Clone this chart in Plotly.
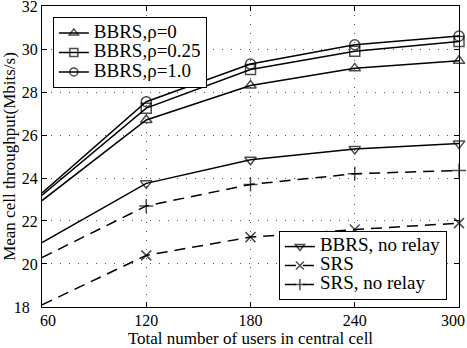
import plotly.graph_objects as go

users = [60, 120, 180, 240, 300]
bbrs_rho0 = [22.95, 26.7, 28.3, 29.1, 29.45]
bbrs_rho025 = [23.2, 27.25, 29.05, 29.9, 30.35]
bbrs_rho1 = [23.3, 27.55, 29.3, 30.2, 30.6]
bbrs_norelay = [21.0, 23.75, 24.85, 25.35, 25.6]
srs = [18.1, 20.4, 21.25, 21.6, 21.9]
srs_norelay = [20.3, 22.7, 23.7, 24.2, 24.35]

x_ticks = [60, 120, 180, 240, 300]
x_ticktext = ["\u00a0\u00a0\u00a060", "120", "180", "240", "300\u00a0\u00a0\u00a0"]
y_ticks = [18, 20, 22, 24, 26, 28, 30, 32]
y_ticktext = ["18\u00a0\u00a0", "20", "22", "24", "26", "28", "30", "32"]

FONT = "Liberation Serif, Times New Roman, serif"
MS = [0, 10, 10, 10, 10]

series = [
    ("BBRS,ρ=0", bbrs_rho0, "triangle-up-open", "solid", "legend"),
    ("BBRS,ρ=0.25", bbrs_rho025, "square-open", "solid", "legend"),
    ("BBRS,ρ=1.0", bbrs_rho1, "circle-open", "solid", "legend"),
    ("BBRS, no relay", bbrs_norelay, "triangle-down-open", "solid", "legend2"),
    ("SRS", srs, "x-thin-open", "dash", "legend2"),
    ("SRS, no relay", srs_norelay, "cross-thin-open", "dash", "legend2"),
]

fig = go.Figure()
for name, ys, sym, dash, leg in series:
    fig.add_trace(go.Scatter(
        x=users, y=ys, mode="lines+markers",
        name='<span style="font-size:19px">' + name + "</span>",
        line=dict(color="black", width=1.5, dash="solid" if dash == "solid" else "11px,7px"),
        marker=dict(symbol=sym, size=MS, color="black", line=dict(color="black", width=1.5)),
        legend=leg, cliponaxis=False,
    ))

axis_common = dict(
    showline=True, linecolor="black", linewidth=1, mirror="ticks",
    ticks="inside", ticklen=5, tickcolor="black",
    showgrid=True, gridcolor="#555", griddash="1px,8px", gridwidth=1,
    zeroline=False, tickfont=dict(family=FONT, size=16, color="black"),
    ticklabeloverflow="allow", automargin=False,
)

fig.update_layout(
    width=467, height=348,
    margin=dict(l=42, r=8, t=6, b=41, autoexpand=False),
    paper_bgcolor="white", plot_bgcolor="white",
    font=dict(family=FONT, color="black", size=16),
    xaxis=dict(range=[59.999, 300.001], tickvals=x_ticks, ticktext=x_ticktext,
               ticklabelstandoff=-1,
               title=dict(text="Total number of users in central cell",
                          font=dict(family=FONT, size=17), standoff=0),
               **axis_common),
    yaxis=dict(range=[17.999, 32.001], tickvals=y_ticks, ticktext=y_ticktext,
               title=dict(text="Mean cell throughput(Mbits/s)",
                          font=dict(family=FONT, size=17), standoff=2),
               **axis_common),
    legend=dict(x=0.026, y=0.963, xanchor="left", yanchor="top",
                bgcolor="white", bordercolor="black", borderwidth=1,
                font=dict(family=FONT, size=12.7), tracegroupgap=0,
                itemwidth=30),
    legend2=dict(x=0.971, y=0.023, xanchor="right", yanchor="bottom",
                 bgcolor="white", bordercolor="black", borderwidth=1,
                 font=dict(family=FONT, size=11), tracegroupgap=0,
                 itemwidth=30),
)

fig.write_html("out.html", config={"displayModeBar": False},
               post_script="document.body.style.margin='0';")
